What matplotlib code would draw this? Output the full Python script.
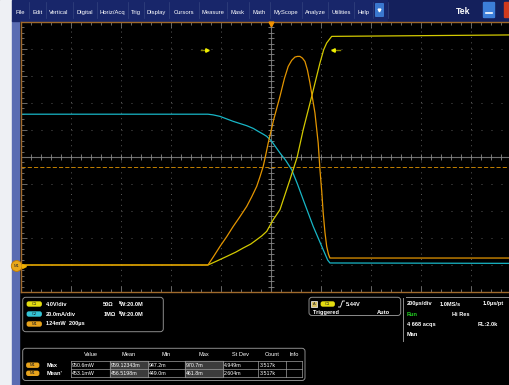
import matplotlib
matplotlib.use('Agg')
import matplotlib.pyplot as plt
from matplotlib.patches import Rectangle, FancyBboxPatch, Circle
import numpy as np

plt.rcParams['font.family'] = ['Liberation Sans', 'DejaVu Sans']
plt.rcParams['lines.scale_dashes'] = False

# acquisition / channel settings
us_per_div = 200.0
c1_scale = 4.0      # V/div
c2_scale = 20.0     # mA/div
m1_scale = 124.0    # mW/div
ground_pos = -4.0   # div, all traces
ref_level = -0.36   # div, dashed orange line

# C1 voltage (V) vs time (us)
c1_t = [-1000, -251, -215, -176, -140, -110, -80, -56, -36, -16, 10, 37, 77, 106, 130, 164, 197, 212, 224, 244, 917, 1000]
c1_v = [0, 0, 0.6, 1.27, 1.9, 2.52, 3.1, 3.75, 4.3, 4.98, 6.71, 8.19, 12.64, 16.0, 20.04, 24.98, 29.93, 31.9, 32.9, 33.87, 34.07, 34.1]

# C2 current (mA)
c2_t = [-1000, -251, -230, -203, -150, -96, -70, -50, -30, -16, 4, 37, 60, 84, 107, 130, 170, 210, 228, 237, 1000]
c2_i = [111.7, 111.7, 111.2, 110.1, 106.4, 103.2, 101.2, 99.0, 96.9, 95.3, 91.6, 83.0, 77.5, 70.6, 60.0, 48.4, 28.6, 11.3, 3.6, 1.5, 1.2]

# M1 power (mW)
m1_t = [-1000, -251, -228, -203, -176, -150, -123, -96, -76, -56, -43, -30, -20, -10, 12, 37, 55, 70, 84, 97,
        107, 117, 127, 137, 147, 157, 177, 190, 197, 204, 210, 217, 224, 231, 237, 1000]
m1_p = [0, 0, 40, 85, 130, 177, 222, 269, 313, 361, 405, 453, 505, 560, 668, 774, 857, 912, 940, 955,
        958, 958, 950, 935, 895, 836, 698, 560, 438, 340, 239, 150, 85, 50, 32, 32]

# menu bar
menu_items = ['File', 'Edit', 'Vertical', 'Digital', 'Horiz/Acq', 'Trig', 'Display', 'Cursors',
              'Measure', 'Mask', 'Math', 'MyScope', 'Analyze', 'Utilities', 'Help']
menu_x = [20, 37.5, 59, 84.5, 112, 136, 156.5, 184, 213, 238, 259.5, 286, 315, 341, 363.5]
menu_sep = [29, 46, 72.7, 96.7, 128, 144, 169, 199, 226.7, 249, 270, 301.7, 328, 354, 372.7, 388]

# measurement table
tbl_headers = ['Value', 'Mean', 'Min', 'Max', 'St Dev', 'Count', 'Info']
tbl_cols = [71, 110, 147.7, 185, 222.7, 258.3, 286, 301.7]
tbl_rows = [('Max', ['950.6mW', '959.12343m', '947.2m', '970.7m', '4.949m', '3.517k', '']),
            ('Mean\'', ['453.1mW', '456.5198m', '449.0m', '461.8m', '2.604m', '3.517k', ''])]

YEL = '#d4ca00'
CYA = '#18b6c6'
ORA = '#e39500'

fig = plt.figure(figsize=(5.1, 3.85), dpi=100, facecolor='black')

# ---- background chrome (pixel coords)
bg = fig.add_axes([0, 0, 1, 1], zorder=0)
bg.set_xlim(0, 510)
bg.set_ylim(385, 0)
bg.axis('off')
bg.add_patch(Rectangle((0, 0), 12, 385, color='#eef0f4'))
bg.add_patch(Rectangle((12, 20), 7.5, 365, color='#5a6cb2'))
bg.add_patch(Rectangle((12, 0), 498, 20.5, color='#18266a'))
bg.add_patch(Rectangle((388, 0), 122, 20.5, color='#14205c'))
for s in menu_sep:
    bg.plot([s, s], [2, 18], color='#34447f', lw=0.5)
for name, x in zip(menu_items, menu_x):
    bg.text(x, 12.5, name, color='white', fontsize=4.2, ha='center', va='center')
bg.add_patch(FancyBboxPatch((376, 4), 7, 12, boxstyle='round,pad=0.3', color='#3a78d0'))
bg.plot([379.5], [10], marker='v', ms=2, color='white')
bg.text(463, 11, 'Tek', color='white', fontsize=6.2, fontweight='bold', ha='center', va='center')
bg.add_patch(FancyBboxPatch((484, 3), 10, 14, boxstyle='round,pad=0.5', color='#3c7ed8'))
bg.plot([486, 492], [13, 13], color='white', lw=1.2)
bg.add_patch(FancyBboxPatch((505, 3), 10, 14, boxstyle='round,pad=0.5', color='#d23a1c'))


def pill(x, y, w, label, color):
    bg.add_patch(FancyBboxPatch((x, y - 2.3), w, 4.6, boxstyle='round,pad=0.4,rounding_size=2.2',
                                fc=color, ec='none'))
    bg.text(x + w / 2, y + 0.2, label, fontsize=3, ha='center', va='center', color='#202020')


def box(x0, y0, x1, y1):
    bg.add_patch(FancyBboxPatch((x0, y0), x1 - x0, y1 - y0, boxstyle='round,pad=0,rounding_size=3',
                                fc='none', ec='#8c8c8c', lw=0.7))


txt = dict(color='white', fontsize=4.1, va='center', fontweight='bold')

# channel box
box(22.7, 297.3, 163.3, 331.7)
pill(27, 304, 14.5, 'C1', '#e4dc10')
pill(27, 314, 14.5, 'C2', '#34c4d6')
pill(27, 324, 14.5, 'M1', '#e6a21c')
bg.text(45.7, 304, '4.0V/div', **txt)
bg.text(45.7, 314, '20.0mA/div', **txt)
bg.text(45.7, 324, '124mW  200\u00b5s', **txt)
for y, r in [(304, '50\u03a9'), (314, '1M\u03a9')]:
    bg.text(103.3, y, r, **txt)
    bg.text(118.5, y - 1.3, 'B', color='white', fontsize=2.9, va='center', fontweight='bold')
    bg.text(120.5, y + 0.6, 'W:20.0M', **txt)

# trigger box
box(309, 297.3, 400.7, 315.5)
bg.add_patch(Rectangle((311.5, 301.3), 5.5, 5.5, fc='#d8c060', ec='white', lw=0.5))
bg.text(314.2, 304.2, 'A', fontsize=2.8, ha='center', va='center', color='#202020')
pill(321, 304, 13.5, 'C1', '#e4dc10')
bg.plot([338.5, 340.5, 342.5, 344.5], [307, 307, 301, 301], color='white', lw=0.6)
bg.text(346, 304, '5.44V', **txt)
bg.text(312.7, 312.3, 'Triggered', **txt)
bg.text(377.3, 312.3, 'Auto', **txt)

# horizontal box
bg.plot([403.3, 403.3], [297.5, 341], color='#8c8c8c', lw=0.7)
bg.plot([406, 510], [297.3, 297.3], color='#8c8c8c', lw=0.7)
bg.text(407, 304, '200\u00b5s/div', **txt)
bg.text(440, 304, '1.0MS/s', **txt)
bg.text(482.7, 304, '1.0\u00b5s/pt', **txt)
bg.text(407, 314, 'Run', **dict(txt, color='#22d022'))
bg.text(452.3, 314, 'Hi Res', **txt)
bg.text(407, 324.3, '4 668 acqs', **txt)
bg.text(477.3, 324.3, 'RL:2.0k', **txt)
bg.text(407, 335, 'Man', **txt)

# measurement table
box(22.7, 348.3, 305, 380.5)
for h, x0, x1 in zip(tbl_headers, tbl_cols[:-1], tbl_cols[1:]):
    bg.text((x0 + x1) / 2, 355, h, ha='center', **dict(txt, fontweight='normal'))
row_y = [361, 369.3, 377.3]
for ci in (1, 3):
    bg.add_patch(Rectangle((tbl_cols[ci], row_y[0]), tbl_cols[ci + 1] - tbl_cols[ci],
                           row_y[2] - row_y[0], color='#3c3c3c'))
for x in tbl_cols:
    bg.plot([x, x], [row_y[0], row_y[2]], color='#a0a0a0', lw=0.5)
for y in row_y:
    bg.plot([tbl_cols[0], tbl_cols[-1]], [y, y], color='#a0a0a0', lw=0.5)
for (lab, vals), yc in zip(tbl_rows, [365.2, 373.3]):
    pill(26.5, yc, 12.5, 'M1', '#e6a21c')
    bg.text(46.7, yc, lab, **txt)
    for v, x0 in zip(vals, tbl_cols[:-1]):
        bg.text(x0 + 1.2, yc, v, **dict(txt, fontsize=3.8, fontweight='normal'))

# ---- graticule
ax = fig.add_axes([20.7 / 510, (385 - 292) / 385, 500 / 510, 270 / 385], zorder=1)
ax.set_facecolor('black')
ax.set_xlim(-5 * us_per_div, 5 * us_per_div)
ax.set_ylim(-5, 5)
for sp in ax.spines.values():
    sp.set_color('#a06a2c')
    sp.set_linewidth(1.0)
xmaj = np.arange(-5, 6) * us_per_div
ymaj = np.arange(-5, 6)
ax.set_xticks(xmaj)
ax.set_yticks(ymaj)
ax.set_xticks(np.arange(-25, 26) * us_per_div / 5, minor=True)
ax.set_yticks(np.arange(-25, 26) / 5, minor=True)
ax.tick_params(which='both', direction='in', top=True, right=True, labelbottom=False,
               labelleft=False, color='#7a7a7a', width=0.6)
ax.tick_params(which='major', length=4)
ax.tick_params(which='minor', length=2.2)
for x in xmaj[1:-1]:
    if x != 0:
        ax.axvline(x, color='#5a5a5a', lw=0.7, ls=(0, (0.7, 3.2)))
for y in ymaj[1:-1]:
    if y != 0:
        ax.axhline(y, color='#5a5a5a', lw=0.7, ls=(0, (0.7, 6.5)))
ax.axhline(0, color='#707070', lw=0.8)
ax.axvline(0, color='#707070', lw=0.8)
mx = np.arange(-25, 26) * us_per_div / 5
my = np.arange(-25, 26) / 5
ax.plot(mx, np.zeros_like(mx), ls='none', marker='|', ms=4, mew=0.6, color='#8a8a8a')
ax.plot(np.zeros_like(my), my, ls='none', marker='_', ms=4, mew=0.6, color='#8a8a8a')
ax.axhline(ref_level, color=ORA, lw=0.6, ls=(0, (3, 1.5)))

c1_div = np.array(c1_v) / c1_scale + ground_pos
c2_div = np.array(c2_i) / c2_scale + ground_pos
m1_div = np.array(m1_p) / m1_scale + ground_pos
ax.plot(c2_t, c2_div, color=CYA, lw=0.9)
ax.plot(c1_t, c1_div, color=YEL, lw=0.9)
ax.plot(m1_t, m1_div, color=ORA, lw=0.9)

# ---- overlay markers
top = fig.add_axes([0, 0, 1, 1], zorder=2)
top.set_xlim(0, 510)
top.set_ylim(385, 0)
top.axis('off')
top.plot([201.5, 206], [49.7, 49.7], color='#8a8400', lw=1)
top.plot([207], [49.7], marker='>', ms=2.5, color='#f0f000')
top.plot([335, 340], [49.7, 49.7], color='#8a8400', lw=1)
top.plot([333], [49.7], marker='<', ms=2.5, color='#f0f000')
top.plot([270.7], [23.5], marker='v', ms=3.5, color='#f09000')
top.add_patch(Circle((16.7, 266), 5.4, fc='#eaa818', ec='#c07a00', lw=0.6))
top.text(16.7, 266.3, 'M1', fontsize=3, ha='center', va='center', color='#303030')
top.plot([24], [266], marker='>', ms=2.8, color='#f0b000')

fig.savefig('out.png', dpi=100, facecolor='black')
